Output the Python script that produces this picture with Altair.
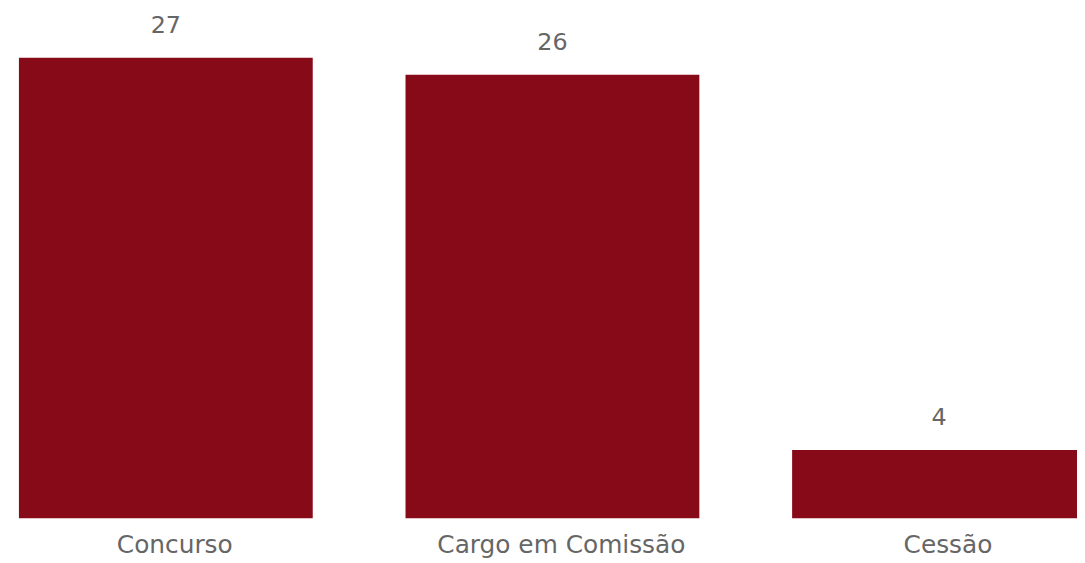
import altair as alt
import pandas as pd

categories = ["Concurso", "Cargo em Comissão", "Cessão"]
values = [27, 26, 4]

df = pd.DataFrame({"categoria": categories, "valor": values})

FONT = "DejaVu Sans"
TEXT_COLOR = "#666666"
BAR_COLOR = "#870A19"

x = alt.X(
    "categoria:N",
    sort=categories,
    scale=alt.Scale(range=[11, 1086], paddingInner=0.24, paddingOuter=0),
    axis=alt.Axis(
        title=None, labelAngle=0, ticks=False, domain=False, grid=False,
        labelFont=FONT, labelFontSize=25, labelColor=TEXT_COLOR, labelPadding=14,
        labelLimit=0, labelOffset=9,
    ),
)
y = alt.Y(
    "valor:Q",
    scale=alt.Scale(domain=[0, 29.8], nice=False),
    axis=None,
)

bars = alt.Chart(df).mark_bar(color=BAR_COLOR).encode(x=x, y=y)
labels = alt.Chart(df).mark_text(
    dy=-25, baseline="alphabetic", font=FONT, fontSize=24, color=TEXT_COLOR
).encode(x=x, y=y, text="valor:Q")

chart = (
    (bars + labels)
    .properties(
        width=1086,
        height=512,
        autosize=alt.AutoSizeParams(type="none"),
        padding={"left": 0, "top": 0, "right": -9, "bottom": 43},
    )
    .configure(background="white")
    .configure_view(strokeWidth=0, stroke=None)
)

chart.save("out.html", embed_options={"renderer": "svg", "actions": False})
